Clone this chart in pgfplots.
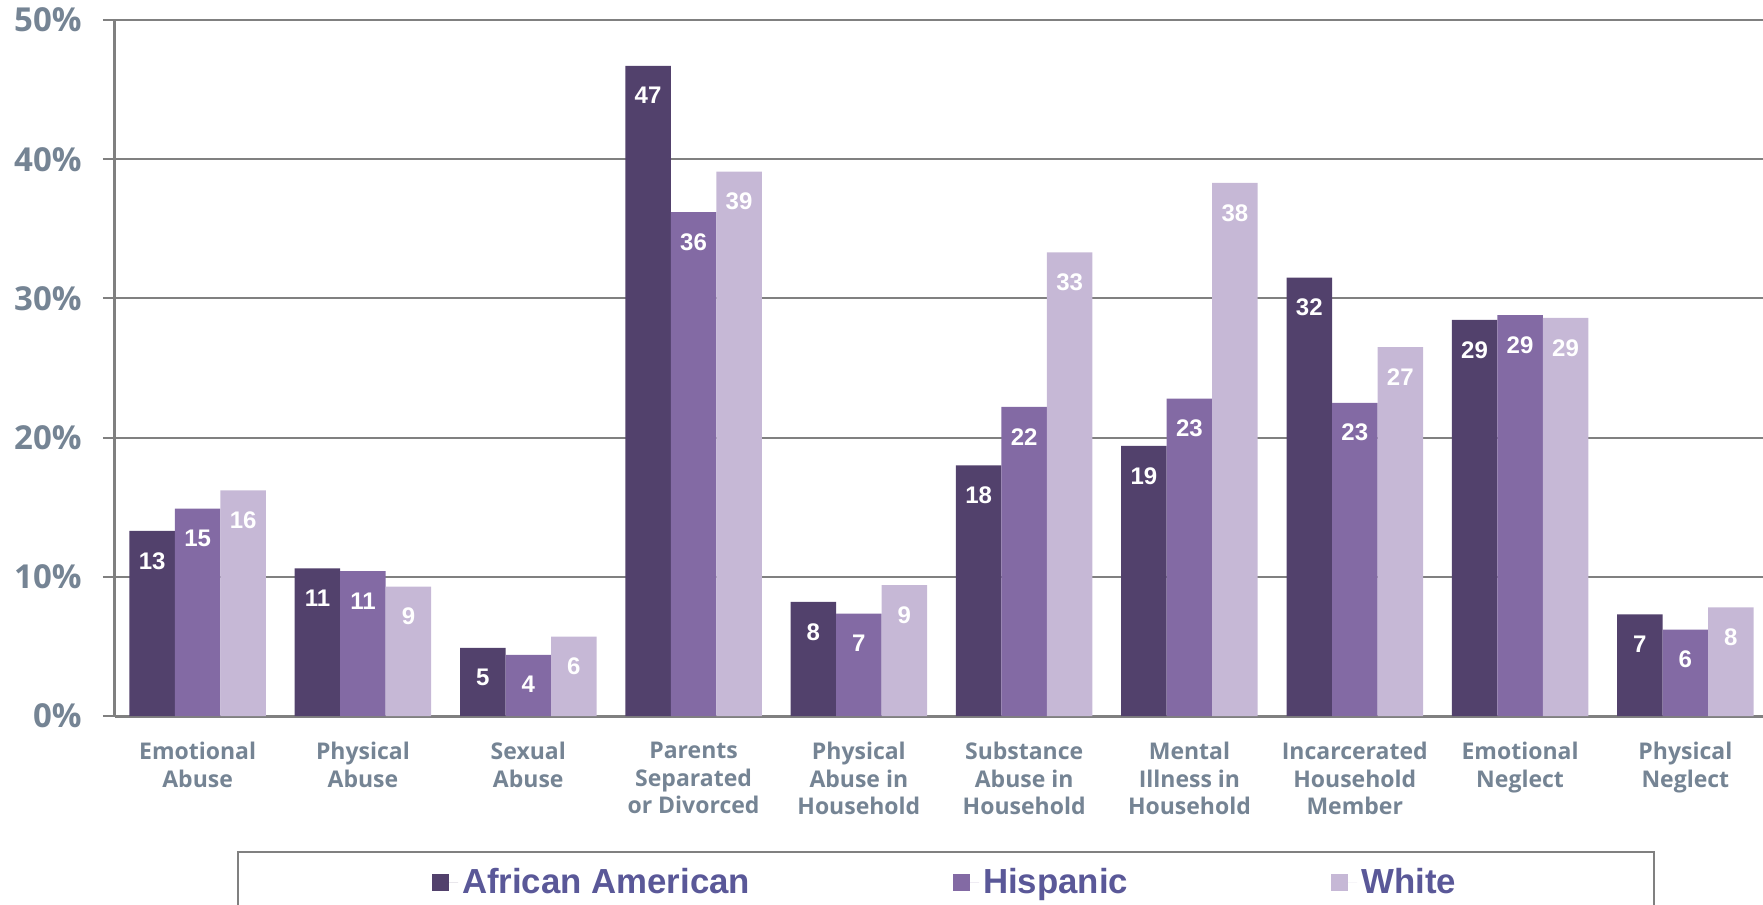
\documentclass[border=0pt]{standalone}
\usepackage{pgfplots}
\usepackage{pgfplotstable}
\pgfplotsset{compat=1.18}
\usepackage{fontspec}
\setmainfont{Open Sans}
\newfontfamily\arialf{Liberation Sans}

\definecolor{aacol}{RGB}{82,65,108}
\definecolor{hcol}{RGB}{131,106,164}
\definecolor{wcol}{RGB}{198,184,214}
\definecolor{tickcol}{RGB}{117,132,148}
\definecolor{legcol}{RGB}{90,88,152}
\definecolor{linecol}{RGB}{128,128,128}

% share of respondents (%) and the printed rounded labels
\pgfplotstableread{
x aa    h     w     laa lh lw
0 13.3  14.9  16.2  13  15 16
1 10.6  10.4  9.3   11  11 9
2 4.9   4.4   5.7   5   4  6
3 46.7  36.2  39.1  47  36 39
4 8.2   7.35  9.4   8   7  9
5 18.0  22.2  33.3  18  22 33
6 19.4  22.8  38.3  19  23 38
7 31.5  22.5  26.5  32  23 27
8 28.45 28.8  28.6  29  29 29
9 7.3   6.2   7.8   7   6  8
}\data

\begin{document}
\begin{tikzpicture}
\begin{axis}[
    at={(0,0)}, anchor=south west,
    scale only axis,
    width=826.5pt, height=348pt,
    xmin=-0.5, xmax=9.5,
    ymin=0, ymax=50,
    axis lines*=left,
    axis line style={draw=linecol, line width=1.5pt},
    ymajorgrids,
    grid style={draw=linecol, line width=1pt},
    tick align=outside,
    major tick length=6pt,
    ytick={0,10,...,50},
    yticklabels={0\%,10\%,20\%,30\%,40\%,50\%},
    ytick style={draw=linecol, line width=1pt},
    yticklabel style={font=\bfseries\fontsize{16.5}{18}\selectfont, text=tickcol, inner sep=0pt, xshift=-10.5pt},
    xtick={0,...,9},
    xtick style={draw=none},
    xticklabels={{Emotional\\Abuse},{Physical\\Abuse},{Sexual\\Abuse},{Parents\\Separated\\or Divorced},{Physical\\Abuse in\\Household},{Substance\\Abuse in\\Household},{Mental\\Illness in\\Household},{Incarcerated\\Household\\Member},{Emotional\\Neglect},{Physical\\Neglect}},
    xticklabel style={align=center, font=\bfseries\fontsize{11.5}{13.75}\selectfont, text=tickcol, inner sep=0pt, yshift=-7pt},
    extra x ticks={-0.5,0.5,...,8.5},
    extra x tick labels={},
    extra x tick style={major tick length=3.5pt, tick style={draw=linecol, line width=1pt}},
    ybar=0pt,
    bar width=22.75pt,
    point meta=explicit symbolic,
    nodes near coords,
    every node near coord/.append style={anchor=north, yshift=-10.5pt, inner sep=0pt, font=\arialf\bfseries\fontsize{12}{14}\selectfont, text=white},
    legend image code/.code={
        \fill[#1] (0pt,-4.25pt) rectangle (8.5pt,4.25pt);
        \path (0pt,0pt) -- (13pt,0pt);
    },
    legend style={
        at={(0.5027,-0.194)}, anchor=north,
        legend columns=-1,
        draw=linecol, line width=1pt,
        inner xsep=97pt, inner ysep=6pt,
        font=\arialf\bfseries\fontsize{17.4}{21}\selectfont, text=legcol,
        /tikz/every even column/.append style={column sep=99.5pt}
    },
]
    \addplot[fill=aacol, draw=none] table[x=x, y=aa, meta=laa] {\data};
    \addplot[fill=hcol, draw=none] table[x=x, y=h, meta=lh] {\data};
    \addplot[fill=wcol, draw=none] table[x=x, y=w, meta=lw] {\data};
    \legend{African American, Hispanic, White}
\end{axis}
\pgfresetboundingbox
\path[use as bounding box] (-57.5pt,-94.5pt) rectangle (824pt,358pt);
\end{tikzpicture}
\end{document}
